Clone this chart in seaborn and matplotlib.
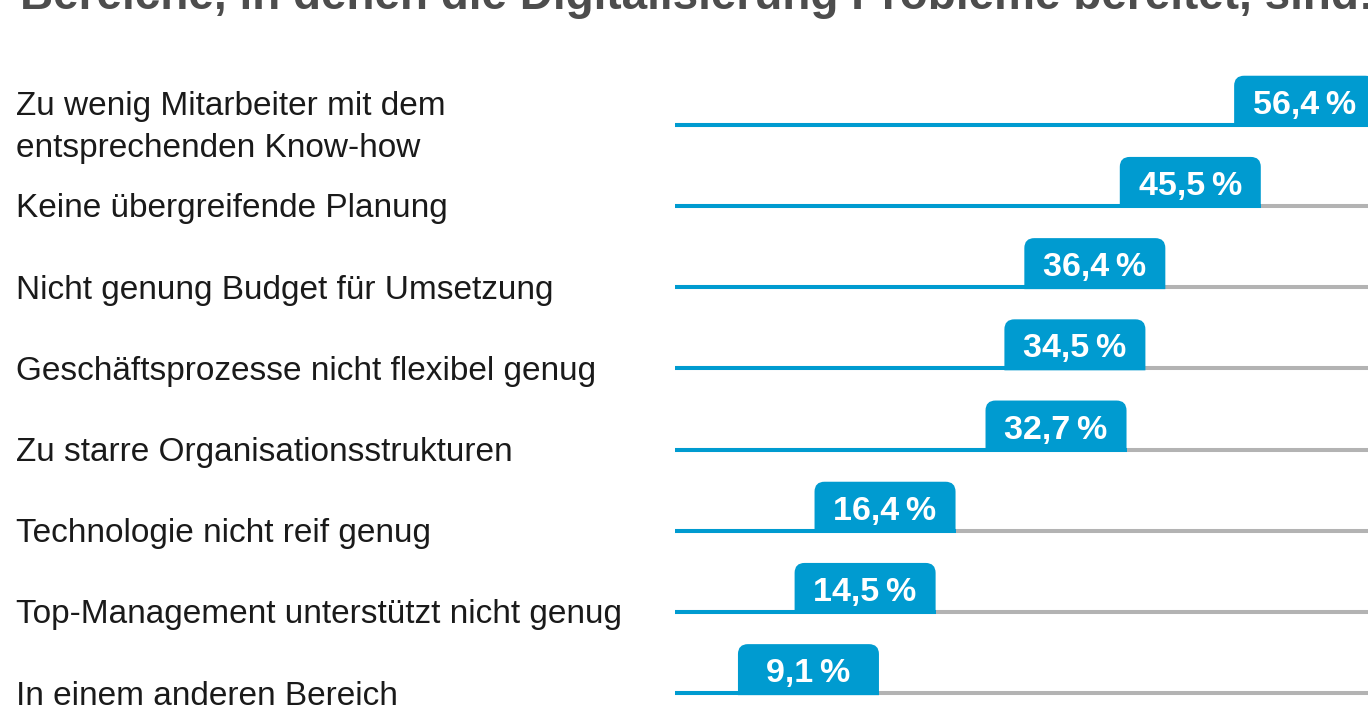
import matplotlib
matplotlib.use('Agg')
import matplotlib.pyplot as plt
import matplotlib.transforms as mtransforms
from matplotlib.path import Path
from matplotlib.patches import PathPatch
import seaborn as sns

# Daten
title = 'Bereiche, in denen die Digitalisierung Probleme bereitet, sind:'
categories = [
    'Zu wenig Mitarbeiter mit dem\nentsprechenden Know-how',
    'Keine übergreifende Planung',
    'Nicht genung Budget für Umsetzung',
    'Geschäftsprozesse nicht flexibel genug',
    'Zu starre Organisationsstrukturen',
    'Technologie nicht reif genug',
    'Top-Management unterstützt nicht genug',
    'In einem anderen Bereich',
]
values = [56.4, 45.5, 36.4, 34.5, 32.7, 16.4, 14.5, 9.1]
value_labels = ['56,4\u2009%', '45,5\u2009%', '36,4\u2009%', '34,5\u2009%',
                '32,7\u2009%', '16,4\u2009%', '14,5\u2009%', '9,1\u2009%']

BLUE = '#009bd0'
GREY = '#b3b3b3'

sns.set_theme(style='white')
plt.rcParams['font.family'] = ['Liberation Sans', 'DejaVu Sans']

W, H = 1368, 711
fig = plt.figure(figsize=(W / 100, H / 100), dpi=100)
ax = fig.add_axes([0, 0, 1, 1])
ax.set_xlim(-74.69, 55.72)
ax.set_ylim(7.22, -1.536)
ax.axis('off')

rows = list(range(len(categories)))
line_start = -10.34

# Linien: grau durchgehend, blau bis zum Wert
ax.hlines(rows, line_start, 55.72, color=GREY, lw=2.9, capstyle='butt')
ax.hlines(rows, line_start, values, color=BLUE, lw=2.9, capstyle='butt')

# Wert-Boxen (oben abgerundet), Maße in Pixel
bw, top, bot, r = 141, 49, -2, 10
verts = [(-bw, bot), (-bw, top - r), (-bw, top), (-bw + r, top),
         (-r, top), (0, top), (0, top - r), (0, bot), (-bw, bot)]
codes = [Path.MOVETO, Path.LINETO, Path.CURVE3, Path.CURVE3,
         Path.LINETO, Path.CURVE3, Path.CURVE3, Path.LINETO, Path.CLOSEPOLY]
box_path = Path(verts, codes)

for row, val, lab in zip(rows, values, value_labels):
    tr = mtransforms.ScaledTranslation(val, row, ax.transData)
    ax.add_patch(PathPatch(box_path, facecolor=BLUE, edgecolor='none',
                           transform=tr, zorder=3))
    ax.annotate(lab, xy=(val, row), xytext=(-bw / 2, 11),
                textcoords='offset pixels', ha='center', va='baseline',
                color='white', fontsize=24.5, fontweight='bold', zorder=4,
                annotation_clip=False)

# Kategorien links
label_tr = mtransforms.blended_transform_factory(ax.transAxes, ax.transData)
for row, cat in zip(rows, categories):
    parts = cat.split('\n')
    n = len(parts)
    for i, part in enumerate(parts):
        off = (11.5 + (i - (n - 1) / 2) * 42) / 81.2
        ax.text(16 / W, row + off, part, transform=label_tr,
                ha='left', va='baseline', fontsize=24, color='#1a1a1a')

# Titel (oben angeschnitten)
fig.text(20 / W, 1 - 9 / H, title, ha='left', va='baseline',
         fontsize=33, fontweight='bold', color='#4d4d4d')

fig.savefig('out.png', dpi=100)
